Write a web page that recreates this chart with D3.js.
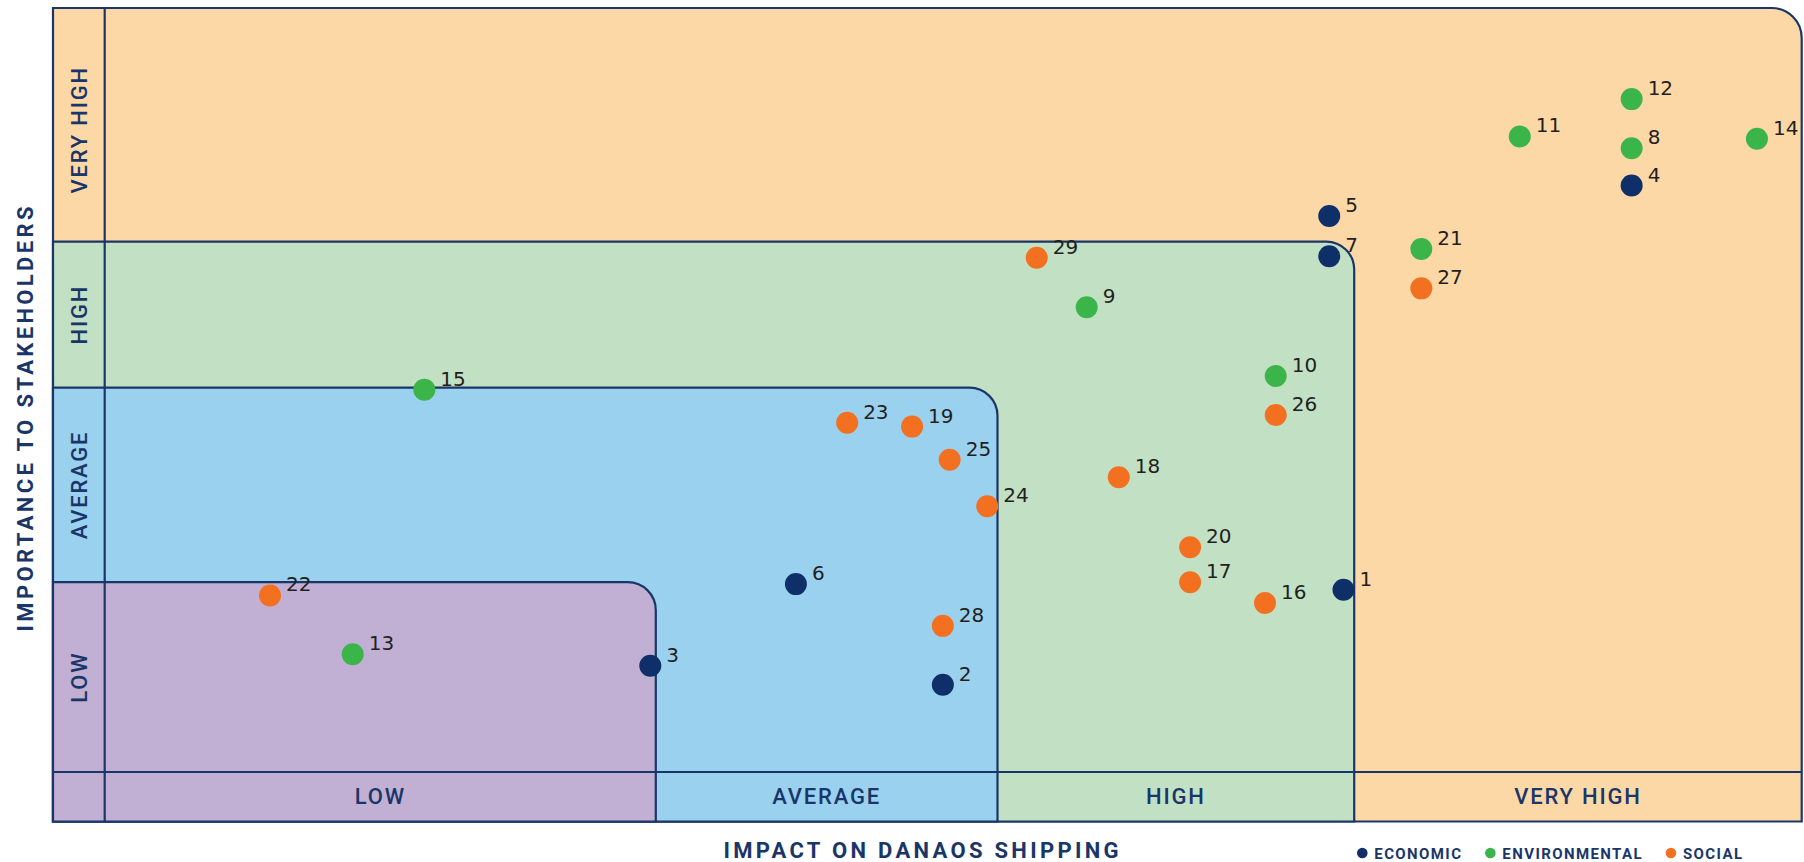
<!DOCTYPE html>
<html>
<head>
<meta charset="utf-8">
<script src="https://cdn.jsdelivr.net/npm/d3@7"></script>
<style>
  html, body { margin: 0; padding: 0; background: #fff; }
  svg { display: block; }
</style>
</head>
<body>
<script>
// DATA
const levels = ["LOW", "AVERAGE", "HIGH", "VERY HIGH"];
const levelBreaks = [0, 1, 2, 3, 4];
const groupNames = ["ECONOMIC", "ENVIRONMENTAL", "SOCIAL"];

const topicIds = [1, 2, 3, 4, 5, 6, 7, 8, 9, 10, 11, 12, 13, 14, 15,
  16, 17, 18, 19, 20, 21, 22, 23, 24, 25, 26, 27, 28, 29];
const topicGroups = [0, 0, 0, 0, 0, 0, 0, 1, 1, 1, 1, 1, 1, 1, 1,
  2, 2, 2, 2, 2, 1, 2, 2, 2, 2, 2, 2, 2, 2];
// impact on Danaos Shipping (0 = bottom of LOW, 4 = top of VERY HIGH)
const impactScores = [2.97, 1.84, 0.99, 3.62, 2.93, 1.41, 2.93, 3.62, 2.25, 2.78, 3.37, 3.62, 0.45, 3.90, 0.58,
  2.75, 2.54, 2.34, 1.75, 2.54, 3.15, 0.30, 1.56, 1.97, 1.86, 2.78, 3.15, 1.84, 2.11];
// importance to stakeholders
const importanceScores = [0.96, 0.46, 0.56, 3.24, 3.11, 0.99, 2.90, 3.40, 2.55, 2.08, 3.45, 3.61, 0.62, 3.44, 1.99,
  0.89, 1.00, 1.54, 1.80, 1.18, 2.95, 0.93, 1.82, 1.39, 1.63, 1.86, 2.68, 0.77, 2.89];

// LAYOUT
const WIDTH = 1804;
const HEIGHT = 862;
const NAVY = "#1a3668";
const regionColors = ["#c1b0d4", "#9ad1ef", "#c2e1c4", "#fdd8a7"];
const dotColors = ["#0f2f69", "#3bb54a", "#f37021"];
const outerLeft = 53;
const outerBottom = 821.5;

const x = d3.scaleLinear().domain(levelBreaks).range([104.7, 655.8, 997.5, 1354.2, 1801.7]);
const y = d3.scaleLinear().domain(levelBreaks).range([772, 582.2, 387.7, 241.6, 8]);

const svg = d3.select("body").append("svg").attr("width", WIDTH).attr("height", HEIGHT);

const topics = topicIds.map((id, i) => ({
  id: id,
  group: topicGroups[i],
  impact: impactScores[i],
  importance: importanceScores[i],
}));

// nested regions, each rounded at the top right corner
const regionPath = k => {
  const top = y(k + 1), right = x(k + 1), r = k === 3 ? 30 : 28;
  return `M${outerLeft},${outerBottom}V${top}H${right - r}A${r},${r} 0 0 1 ${right},${top + r}V${outerBottom}Z`;
};

svg.append("g")
  .selectAll("path")
  .data([3, 2, 1, 0])
  .enter()
  .append("path")
  .attr("d", regionPath)
  .attr("fill", k => regionColors[k])
  .attr("stroke", NAVY)
  .attr("stroke-width", 2.2);

// label column and label row lines
svg.append("line")
  .attr("x1", x(0)).attr("x2", x(0))
  .attr("y1", y(4)).attr("y2", outerBottom)
  .attr("stroke", NAVY).attr("stroke-width", 2.2);
svg.append("line")
  .attr("x1", outerLeft).attr("x2", x(4))
  .attr("y1", y(0)).attr("y2", y(0))
  .attr("stroke", NAVY).attr("stroke-width", 2.2);

// category labels
const catFont = g => g
  .attr("font-family", "Roboto, sans-serif")
  .attr("font-size", 22)
  .attr("font-weight", 500)
  .attr("letter-spacing", 1.8)
  .attr("fill", NAVY)
  .attr("text-anchor", "middle");

svg.append("g").call(catFont)
  .selectAll("text")
  .data(levels)
  .enter()
  .append("text")
  .attr("x", (d, i) => (x(i) + x(i + 1)) / 2)
  .attr("y", 804)
  .text(d => d);

svg.append("g").call(catFont)
  .selectAll("text")
  .data(levels)
  .enter()
  .append("text")
  .attr("transform", (d, i) => `translate(87.3,${(y(i) + y(i + 1)) / 2 + (i === 3 ? 5 : 0)}) rotate(-90)`)
  .text(d => d);

// axis titles
svg.append("text")
  .attr("x", 921)
  .attr("y", 857.5)
  .attr("text-anchor", "middle")
  .attr("font-family", "Roboto, sans-serif")
  .attr("font-size", 22)
  .attr("font-weight", 700)
  .attr("fill", NAVY)
  .attr("textLength", 395)
  .attr("lengthAdjust", "spacing")
  .text("IMPACT ON DANAOS SHIPPING");

svg.append("text")
  .attr("transform", "translate(32.5,419) rotate(-90)")
  .attr("text-anchor", "middle")
  .attr("font-family", "Roboto, sans-serif")
  .attr("font-size", 22)
  .attr("font-weight", 700)
  .attr("fill", NAVY)
  .attr("textLength", 425)
  .attr("lengthAdjust", "spacing")
  .text("IMPORTANCE TO STAKEHOLDERS");

// points
const pointsG = svg.append("g");
pointsG.selectAll("circle")
  .data(topics)
  .enter()
  .append("circle")
  .attr("cx", d => x(d.impact))
  .attr("cy", d => y(d.importance))
  .attr("r", 11)
  .attr("fill", d => dotColors[d.group]);

pointsG.selectAll("text")
  .data(topics)
  .enter()
  .append("text")
  .attr("x", d => x(d.impact) + 16)
  .attr("y", d => y(d.importance) - 4)
  .attr("font-family", "'DejaVu Sans', sans-serif")
  .attr("font-size", 20)
  .attr("fill", "#231f20")
  .text(d => d.id);

// legend
const legendG = svg.append("g");
let lx = 1362.3;
groupNames.forEach((name, i) => {
  legendG.append("circle")
    .attr("cx", lx).attr("cy", 853)
    .attr("r", 5.3)
    .attr("fill", dotColors[i]);
  const t = legendG.append("text")
    .attr("x", lx + 12)
    .attr("y", 858.5)
    .attr("font-family", "Roboto, sans-serif")
    .attr("font-size", 15)
    .attr("font-weight", 700)
    .attr("letter-spacing", 1.4)
    .attr("fill", NAVY)
    .text(name);
  lx += 12 + t.node().getComputedTextLength() + 28;
});
</script>
</body>
</html>
